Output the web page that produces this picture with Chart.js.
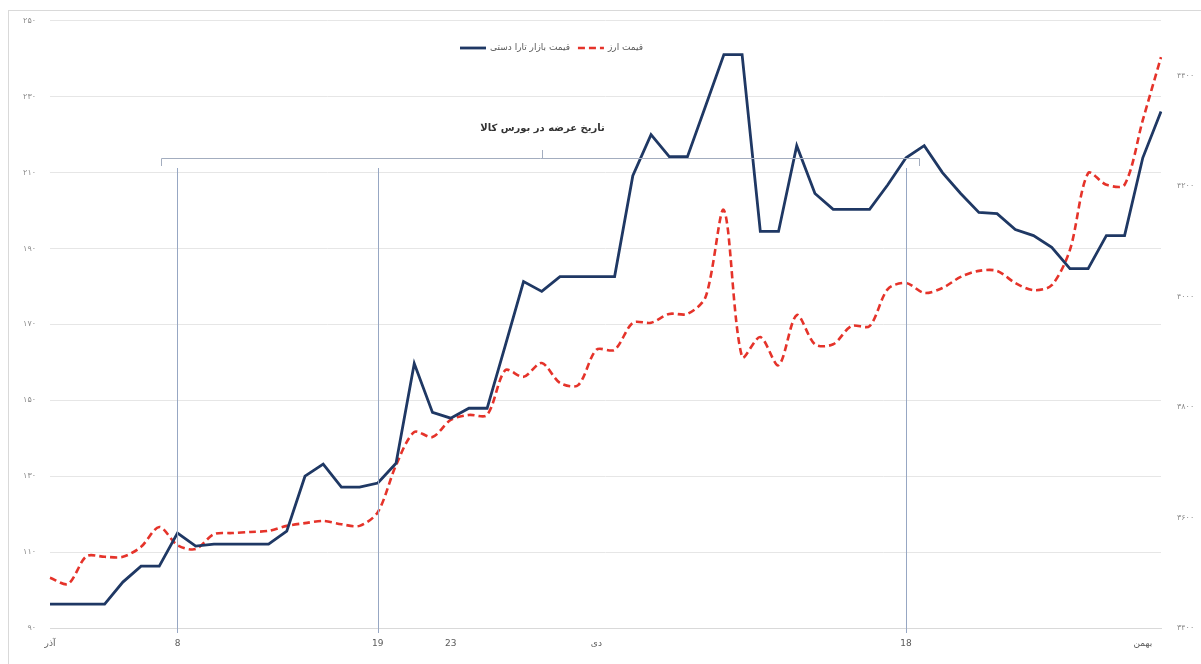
<!DOCTYPE html>
<html>
<head>
<meta charset="utf-8">
<script src="https://cdn.jsdelivr.net/npm/chart.js@4/dist/chart.umd.min.js"></script>
<style>
  body { margin: 0; background: #fff; }
  #wrap { width: 1201px; height: 664px; }
</style>
</head>
<body>
<div id="wrap"><canvas id="trends" width="1201" height="664"></canvas></div>
<script>
// x axis: one point per day, azar 1 .. bahman 2
labels = ['آذر', '', '', '', '', '', '', '8', '', '',
          '', '', '', '', '', '', '', '', '19', '',
          '', '', '23', '', '', '', '', '', '', '',
          'دی', '', '', '', '', '', '', '', '', '',
          '', '', '', '', '', '', '', '18', '', '',
          '', '', '', '', '', '', '', '', '', '',
          'بهمن', '']

// series (left axis = market price, right axis = currency)
marketPrice = [96.3, 96.3, 96.3, 96.3, 102.1, 106.3, 106.3, 115, 111.6, 112.1,
               112.1, 112.1, 112.1, 115.5, 130, 133.2, 127.1, 127.1, 128.2, 133.4,
               159.7, 146.8, 145.3, 147.9, 147.9, 164.5, 181.3, 178.7, 182.6, 182.6,
               182.6, 182.6, 209.2, 220, 214.2, 214.2, 227.6, 241.1, 241.1, 194.5,
               194.5, 217.1, 204.5, 200.3, 200.3, 200.3, 206.8, 213.9, 217.1, 210,
               204.5, 199.5, 199.2, 195, 193.4, 190.3, 184.7, 184.7, 193.4, 193.4,
               213.9, 226.1]
currencyPrice = [3491, 3480, 3530, 3529, 3529, 3547, 3583, 3550, 3543, 3570,
                 3572, 3574, 3576, 3585, 3590, 3594, 3588, 3585, 3610, 3695,
                 3755, 3746, 3777, 3786, 3786, 3867, 3855, 3880, 3844, 3840,
                 3904, 3904, 3953, 3953, 3969, 3969, 4000, 4157, 3891, 3927,
                 3876, 3967, 3914, 3914, 3947, 3947, 4014, 4025, 4007, 4016,
                 4036, 4047, 4047, 4025, 4012, 4021, 4085, 4224, 4203, 4203,
                 4320, 4434]
names = ['قیمت بازار تارا دستی', 'قیمت ارز']

// tick labels of both value axes
leftTicks = [90, 110, 130, 150, 170, 190, 210, 230, 250]
rightTicks = [3400, 3600, 3800, 4000, 4200, 4400]

// days offered on the commodity exchange
offerDays = [7, 18, 47]
offerText = 'تاریخ عرضه در بورس کالا'

function toFa(n) {
    const d = '۰۱۲۳۴۵۶۷۸۹'
    return String(n).replace(/[0-9]/g, function (c) { return d[+c] })
}

// frame, vertical markers, bracket with caption
const decor = {
    id: 'decor',
    beforeDraw(chart) {
        const c = chart.ctx
        c.save()
        c.strokeStyle = '#d9d9d9'
        c.lineWidth = 1
        c.strokeRect(8.5, 10.5, 1200, 660)
        c.restore()
    },
    afterDatasetsDraw(chart) {
        const c = chart.ctx
        const x = chart.scales.x
        const area = chart.chartArea
        const step = x.getPixelForValue(1) - x.getPixelForValue(0)
        c.save()
        c.strokeStyle = '#97a7c3'
        c.lineWidth = 1
        for (let i = 0; i < offerDays.length; i++) {
            const px = Math.round(x.getPixelForValue(offerDays[i])) + 0.5
            c.beginPath()
            c.moveTo(px, 168)
            c.lineTo(px, area.bottom + 5)
            c.stroke()
        }
        // bracket
        const x1 = Math.round(x.getPixelForValue(offerDays[0]) - step * 0.9) + 0.5
        const x2 = Math.round(x.getPixelForValue(offerDays[2]) + step * 0.7) + 0.5
        const xm = Math.round(x.getPixelForValue(27)) + 0.5
        c.strokeStyle = '#a3adbf'
        c.beginPath()
        c.moveTo(x1, 166); c.lineTo(x1, 158.5); c.lineTo(x2, 158.5); c.lineTo(x2, 166)
        c.moveTo(xm, 158.5); c.lineTo(xm, 150)
        c.stroke()
        c.fillStyle = '#333'
        c.font = 'bold 10px "DejaVu Sans"'
        c.textAlign = 'center'
        c.textBaseline = 'middle'
        c.fillText(offerText, xm, 128)
        c.restore()
    },
    afterDraw(chart) {
        // legend inside the plot
        const c = chart.ctx
        c.save()
        c.font = '9px "DejaVu Sans"'
        c.textBaseline = 'middle'
        c.textAlign = 'left'
        let px = 460
        const py = 48
        chart.data.datasets.forEach(function (ds) {
            c.strokeStyle = ds.borderColor
            c.lineWidth = ds.borderWidth
            c.setLineDash(ds.borderDash || [])
            c.beginPath()
            c.moveTo(px, py)
            c.lineTo(px + 26, py)
            c.stroke()
            c.setLineDash([])
            c.fillStyle = '#595959'
            c.fillText(ds.label, px + 30, py)
            px += 30 + c.measureText(ds.label).width + 8
        })
        c.restore()
    }
}

ctx = document.getElementById('trends')
config = {
    type: 'line',
    data: {
        labels: labels,
        datasets: [{
            label: names[0],
            data: marketPrice,
            yAxisID: 'y',
            borderColor: '#1f3864',
            borderWidth: 2.8,
            pointRadius: 0,
            tension: 0,
            fill: false
        }, {
            label: names[1],
            data: currencyPrice,
            yAxisID: 'y1',
            borderColor: '#e5332a',
            borderWidth: 2.6,
            borderDash: [7, 4],
            pointRadius: 0,
            tension: 0.3,
            fill: false
        }]
    },
    options: {
        responsive: false,
        animation: false,
        layout: { padding: { top: 20, left: 0, right: 0, bottom: 0 } },
        plugins: { legend: { display: false }, tooltip: { enabled: false } },
        scales: {
            x: {
                offset: false,
                grid: { display: false, drawTicks: false },
                border: { display: true, color: '#d9d9d9' },
                ticks: {
                    autoSkip: false,
                    maxRotation: 0,
                    padding: 10,
                    color: '#595959',
                    font: { family: 'DejaVu Sans', size: 9 },
                    callback: function (v, i) { return labels[i] }
                },
                afterFit: function (s) { s.height = 36 }
            },
            y: {
                position: 'left',
                min: 90, max: 250,
                grid: { color: '#e6e6e6', drawTicks: false },
                border: { display: false },
                ticks: {
                    padding: 14,
                    color: '#8c8c8c',
                    font: { family: 'DejaVu Sans', size: 8 },
                    callback: function (v) { return toFa(v) }
                },
                afterBuildTicks: function (s) { s.ticks = leftTicks.map(function (v) { return { value: v } }) },
                afterFit: function (s) { s.width = 50 }
            },
            y1: {
                position: 'right',
                min: 3400, max: 4500,
                grid: { display: false, drawTicks: false },
                border: { display: false },
                ticks: {
                    padding: 16,
                    color: '#8c8c8c',
                    font: { family: 'DejaVu Sans', size: 8 },
                    callback: function (v) { return toFa(v) }
                },
                afterBuildTicks: function (s) { s.ticks = rightTicks.map(function (v) { return { value: v } }) },
                afterFit: function (s) { s.width = 40 }
            }
        }
    },
    plugins: [decor]
}
new Chart(ctx, config)
</script>
</body>
</html>
